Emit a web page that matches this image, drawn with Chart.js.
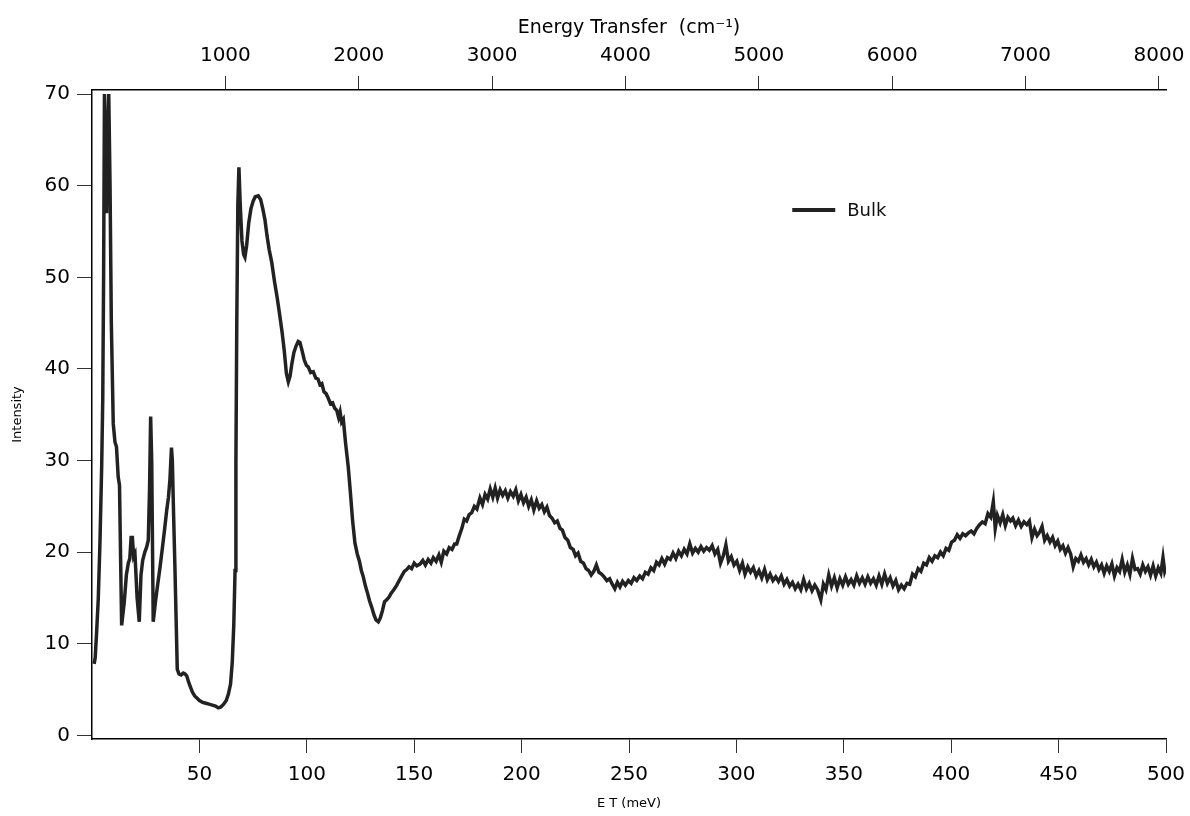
<!DOCTYPE html>
<html>
<head>
<meta charset="utf-8">
<title>Bulk spectrum</title>
<script src="https://cdn.jsdelivr.net/npm/chart.js@4.4.1/dist/chart.umd.min.js"></script>
<style>
  html, body { margin: 0; padding: 0; background: #fff; }
  #wrap { width: 1190px; height: 816px; }
</style>
</head>
<body>
<div id="wrap"><canvas id="chart-bulk" width="1190" height="816"></canvas></div>
<script>
// energy transfer in meV
const energy = [
    1.0, 1.5, 2.2, 2.9, 3.7, 4.5, 5.0, 5.4, 5.8, 6.3,
    6.8, 7.3, 7.8, 8.4, 9.0, 9.9, 10.7, 11.4, 12.2, 12.8,
    13.8, 15.0, 16.0, 16.9, 17.6, 18.2, 18.8, 19.4, 20.0, 21.0,
    22.0, 22.8, 23.6, 24.6, 25.5, 26.2, 26.8, 27.3, 27.8, 28.5,
    29.5, 30.6, 31.7, 32.8, 33.8, 34.8, 35.6, 36.3, 37.0, 37.4,
    38.0, 38.6, 39.7, 40.5, 41.5, 42.5, 43.3, 44.1, 45.0, 45.8,
    46.8, 47.8, 48.7, 50.0, 51.5, 53.0, 54.5, 56.0, 57.5, 58.8,
    60.0, 61.3, 62.5, 63.5, 64.5, 65.3, 66.0, 66.6, 67.0, 67.4,
    67.9, 68.4, 69.0, 69.8, 70.6, 71.2, 72.0, 73.0, 74.0, 75.0,
    76.0, 77.4, 78.5, 79.5, 80.5, 81.5, 82.5, 83.7, 85.0, 86.2,
    87.5, 88.5, 89.5, 90.5, 91.4, 92.2, 93.0, 94.0, 95.0, 96.0,
    96.8, 97.8, 98.8, 99.8, 100.7, 101.8, 103.0, 104.2, 105.2, 106.1,
    107.0, 108.0, 109.0, 110.0, 111.0, 112.0, 113.0, 113.9, 114.8, 115.5,
    116.2, 117.0, 118.0, 119.3, 120.3, 121.3, 122.4, 123.5, 124.5, 125.4,
    126.3, 127.3, 128.3, 129.2, 130.2, 131.2, 132.2, 133.3, 134.2, 135.2,
    136.2, 137.2, 138.3, 139.2, 140.5, 141.9, 143.0, 144.2, 145.4, 146.5,
    147.6, 148.8, 150.0, 151.2, 152.7, 154.0, 155.2, 156.5, 157.8, 158.9,
    160.2, 161.5, 162.6, 163.8, 165.1, 166.3, 167.6, 168.8, 169.8, 171.0,
    172.2, 173.3, 174.4, 175.6, 176.8, 178.0, 179.2, 180.6, 181.8, 183.0,
    184.2, 185.4, 186.6, 187.7, 188.8, 190.0, 191.2, 192.4, 193.6, 194.8,
    196.1, 197.3, 198.5, 199.7, 200.9, 202.1, 203.3, 204.5, 205.7, 207.0,
    208.2, 209.4, 210.6, 211.8, 213.0, 214.2, 215.4, 216.6, 217.9, 219.0,
    220.2, 221.5, 222.7, 224.0, 225.1, 226.3, 227.5, 228.8, 230.0, 231.2,
    232.4, 233.6, 234.8, 236.0, 237.2, 238.4, 239.7, 241.0, 242.2, 243.4,
    244.6, 245.8, 247.0, 248.3, 249.7, 251.0, 252.3, 253.6, 255.0, 256.3,
    257.6, 258.9, 260.2, 261.5, 262.8, 264.0, 265.3, 266.6, 267.9, 269.2,
    270.5, 271.8, 273.1, 274.4, 275.7, 277.0, 278.3, 279.6, 280.9, 282.2,
    283.5, 284.8, 286.1, 287.4, 288.7, 290.0, 291.3, 292.6, 293.9, 295.1,
    296.3, 297.6, 298.9, 300.2, 301.5, 302.8, 304.0, 305.3, 306.6, 307.9,
    309.2, 310.5, 311.8, 313.1, 314.4, 315.7, 317.0, 318.3, 319.6, 320.9,
    322.2, 323.5, 324.8, 326.1, 327.4, 328.7, 330.0, 331.3, 332.6, 333.9,
    335.2, 336.5, 337.8, 339.3, 340.5, 341.7, 343.0, 344.3, 345.6, 346.9,
    348.2, 349.5, 350.8, 352.1, 353.4, 354.7, 356.0, 357.3, 358.6, 359.9,
    361.2, 362.5, 363.8, 365.1, 366.4, 367.7, 369.0, 370.3, 371.6, 372.9,
    374.2, 375.5, 376.8, 378.1, 379.4, 380.7, 382.0, 383.3, 384.6, 385.9,
    387.2, 388.5, 389.8, 391.1, 392.4, 393.7, 395.0, 396.3, 397.6, 398.9,
    400.2, 401.5, 402.8, 404.1, 405.4, 406.7, 408.0, 409.3, 410.6, 411.9,
    413.2, 414.5, 415.8, 417.1, 418.4, 419.6, 420.5, 421.5, 422.8, 424.0,
    425.2, 426.4, 427.6, 428.7, 430.0, 431.3, 432.6, 433.9, 435.2, 436.4,
    437.6, 438.8, 440.0, 441.2, 442.3, 443.5, 444.7, 446.0, 447.2, 448.4,
    449.6, 450.8, 452.0, 453.2, 454.4, 455.6, 456.8, 458.0, 459.2, 460.4,
    461.6, 462.8, 464.0, 465.2, 466.4, 467.6, 468.8, 470.0, 471.2, 472.4,
    473.6, 474.8, 476.0, 477.2, 478.4, 479.6, 480.8, 482.0, 483.2, 484.4,
    485.6, 486.8, 488.0, 489.2, 490.4, 491.6, 492.8, 494.0, 495.2, 496.4,
    497.6, 498.6, 499.4, 500.0
];

// intensity of the "Bulk" trace, same order as energy
const bulk = [
    7.8, 8.5, 11.5, 14.8, 21, 29.3, 36.6, 50, 70, 63,
    57, 66, 70, 60, 45, 34, 32, 31.5, 28.2, 27.3,
    12.0, 14.5, 17.5, 18.8, 19.3, 21.6, 21.6, 19.5, 19.8, 15.0,
    12.4, 17.5, 19.1, 20.0, 20.6, 21.3, 27.0, 34.8, 30.0, 12.4,
    14.5, 16.5, 18.4, 20.5, 22.5, 24.6, 26.0, 28.0, 31.4, 30.0,
    24.0, 18.4, 7.2, 6.7, 6.6, 6.8, 6.7, 6.5, 5.8, 5.3,
    4.7, 4.3, 4.1, 3.8, 3.6, 3.5, 3.4, 3.3, 3.2, 3.0,
    3.1, 3.4, 3.8, 4.5, 5.6, 8.0, 12.0, 18.0, 30.0, 45.0,
    58.0, 62.0, 58.0, 54.0, 52.5, 52.2, 53.5, 56.0, 57.5, 58.3,
    58.8, 58.9, 58.5, 57.5, 56.3, 54.5, 53.0, 51.6, 49.5, 47.8,
    45.7, 44.0, 42.0, 39.5, 38.6, 39.2, 40.5, 41.8, 42.5, 43.0,
    42.9, 42.0, 41.0, 40.4, 40.2, 39.6, 39.7, 39.0, 38.9, 38.3,
    38.4, 37.5, 37.3, 36.8, 36.2, 36.3, 35.7, 35.5, 34.7, 35.3,
    34.2, 34.5, 32.0, 29.3, 26.5, 23.5, 21.0, 19.8, 19.0, 18.0,
    17.3, 16.3, 15.5, 14.7, 14.0, 13.2, 12.6, 12.4, 12.8, 13.6,
    14.6, 14.8, 15.1, 15.5, 15.9, 16.4, 16.9, 17.4, 17.9, 18.1,
    18.4, 18.2, 18.8, 18.5, 18.7, 19.1, 18.6, 19.2, 18.8, 19.4,
    19.0, 19.7, 18.9, 20.1, 19.8, 20.5, 20.3, 20.9, 20.9, 21.8,
    22.6, 23.6, 23.4, 24.1, 24.3, 25.0, 24.7, 25.9, 25.2, 26.3,
    25.8, 26.9, 26.0, 27.0, 25.9, 26.8, 26.2, 26.7, 25.9, 26.6,
    26.1, 26.8, 25.6, 26.3, 25.4, 26.0, 25.0, 25.7, 24.6, 25.6,
    24.8, 25.2, 24.4, 24.9, 24.0, 23.7, 23.2, 23.4, 22.6, 22.4,
    21.6, 21.3, 20.5, 20.3, 19.6, 19.9, 19.0, 18.8, 18.2, 18.0,
    17.5, 17.9, 18.6, 17.8, 17.6, 17.3, 16.9, 17.1, 16.5, 16.0,
    16.7, 16.2, 16.8, 16.4, 16.9, 16.6, 17.2, 16.9, 17.4, 17.1,
    17.8, 17.6, 18.3, 18.0, 18.9, 18.6, 19.3, 18.7, 19.4, 19.2,
    19.9, 19.3, 20.1, 19.6, 20.3, 19.8, 20.9, 19.9, 20.4, 20.0,
    20.6, 20.1, 20.5, 20.2, 20.7, 19.8, 20.3, 18.8, 19.6, 20.8,
    19.0, 19.5, 18.6, 19.0, 18.0, 18.8, 17.6, 18.4, 17.8, 18.3,
    17.4, 18.0, 17.2, 18.1, 17.0, 17.6, 16.9, 17.3, 16.8, 17.4,
    16.5, 17.0, 16.3, 16.7, 16.0, 16.5, 15.9, 17.0, 16.0, 16.6,
    15.8, 16.4, 15.9, 14.8, 16.5, 15.9, 17.5, 16.3, 17.2, 16.1,
    17.1, 16.4, 17.3, 16.5, 17.0, 16.4, 17.4, 16.6, 17.2, 16.5,
    17.3, 16.6, 17.1, 16.4, 17.4, 16.5, 17.6, 16.6, 17.2, 16.3,
    16.9, 15.9, 16.4, 16.0, 16.6, 16.5, 17.6, 17.3, 18.2, 17.9,
    18.8, 18.6, 19.4, 19.0, 19.6, 19.4, 20.0, 19.6, 20.4, 20.2,
    21.1, 21.3, 21.9, 21.5, 22.0, 21.8, 22.1, 22.3, 22.0, 22.6,
    23.0, 23.3, 23.1, 24.2, 23.8, 25.5, 22.6, 24.0, 23.2, 24.1,
    22.9, 23.8, 23.4, 23.7, 22.9, 23.5, 22.8, 23.3, 23.0, 23.4,
    21.6, 22.5, 21.8, 22.2, 22.8, 21.3, 21.8, 21.1, 21.6, 20.7,
    21.2, 20.3, 20.7, 19.9, 20.5, 19.8, 18.4, 19.3, 19.0, 19.7,
    18.9, 19.3, 18.6, 19.2, 18.4, 18.9, 18.1, 18.6, 17.7, 18.5,
    17.9, 18.7, 17.4, 18.3, 17.9, 19.2, 17.8, 18.6, 17.6, 19.3,
    18.1, 18.2, 17.6, 18.6, 17.9, 18.4, 17.5, 18.5, 17.4, 18.3,
    17.7, 19.4, 17.9, 18.3
];

// tick labels
const meVTicks = [50, 100, 150, 200, 250, 300, 350, 400, 450, 500];
const cmTicks = [1000, 2000, 3000, 4000, 5000, 6000, 7000, 8000];
const intensityTicks = [0, 10, 20, 30, 40, 50, 60, 70];

const points = [];
for (let i = 0; i < Math.min(energy.length, bulk.length); i++) {
    points.push({ x: energy[i], y: bulk[i] });
}

const FONT = "'DejaVu Sans', 'Lucida Grande', sans-serif";

function fixedTicks(values) {
    return function (scale) {
        scale.ticks = values.map(v => ({ value: v }));
    };
}

// keep the plot box where the original has it, whatever the label overhang
function fitX(h) {
    return function (s) {
        s.height = h;
        s.paddingLeft = 0;
        s.paddingRight = 0;
    };
}

// small legend drawn inside the plot, like the original
const bulkLegend = {
    id: 'bulkLegend',
    afterDraw(chart) {
        const ctx = chart.ctx;
        const a = chart.chartArea;
        const x0 = a.left + (a.right - a.left) * 0.652;
        const y0 = a.top + (a.bottom - a.top) * 0.185;
        ctx.save();
        ctx.strokeStyle = '#222';
        ctx.lineWidth = 4;
        ctx.beginPath();
        ctx.moveTo(x0, y0);
        ctx.lineTo(x0 + 43, y0);
        ctx.stroke();
        ctx.fillStyle = '#111';
        ctx.font = '18px ' + FONT;
        ctx.textBaseline = 'middle';
        ctx.fillText(chart.data.datasets[0].label, x0 + 55, y0 + 1);
        ctx.restore();
    }
};

var ctx = document.getElementById('chart-bulk');
var myChart = new Chart(ctx, {
    type: 'line',
    data: {
        datasets: [{
            label: 'Bulk',
            data: points,
            borderColor: '#222222',
            borderWidth: 3.5,
            pointRadius: 0,
            tension: 0,
            fill: false
        }]
    },
    options: {
        responsive: false,
        animation: false,
        layout: { padding: { left: 0, right: 24, top: 0, bottom: 0 } },
        plugins: {
            legend: { display: false },
            tooltip: { enabled: false }
        },
        scales: {
            x: {
                type: 'linear',
                position: 'bottom',
                min: 0,
                max: 500,
                afterBuildTicks: fixedTicks(meVTicks),
                afterFit: fitX(77),
                ticks: {
                    autoSkip: false, maxRotation: 0, padding: 10,
                    color: '#000', font: { family: FONT, size: 20 },
                    callback: v => String(v)
                },
                grid: { drawOnChartArea: false, drawTicks: true, tickLength: 14, color: '#333', lineWidth: 1 },
                border: { display: true, color: '#000', width: 1.5 },
                title: {
                    display: true, text: 'E T (meV)', color: '#000',
                    font: { family: FONT, size: 13 }, padding: { top: 0, bottom: 5 }
                }
            },
            x2: {
                type: 'linear',
                position: 'top',
                min: 0,
                max: 8053,
                afterBuildTicks: fixedTicks(cmTicks),
                afterFit: fitX(90),
                ticks: {
                    autoSkip: false, maxRotation: 0, padding: 8,
                    color: '#000', font: { family: FONT, size: 20 },
                    callback: v => String(v)
                },
                grid: { drawOnChartArea: false, drawTicks: true, tickLength: 14, color: '#333', lineWidth: 1 },
                border: { display: true, color: '#000', width: 1.5 },
                title: {
                    display: true, text: 'Energy Transfer  (cm\u207B\u00B9)', color: '#000',
                    font: { family: FONT, size: 19 }, padding: { top: 17, bottom: 0 }
                }
            },
            y: {
                type: 'linear',
                min: -0.4,
                max: 70.45,
                afterBuildTicks: fixedTicks(intensityTicks),
                afterFit(s) { s.width = 92; s.paddingTop = 0; s.paddingBottom = 0; },
                ticks: {
                    autoSkip: false, padding: 7,
                    color: '#000', font: { family: FONT, size: 20 },
                    callback: v => String(v)
                },
                grid: { drawOnChartArea: false, drawTicks: true, tickLength: 15, color: '#333', lineWidth: 1 },
                border: { display: true, color: '#000', width: 1.5 },
                title: {
                    display: true, text: 'Intensity', color: '#000',
                    font: { family: FONT, size: 13 }, padding: { top: 10, bottom: 0 }
                }
            }
        }
    },
    plugins: [bulkLegend]
});
</script>
</body>
</html>
